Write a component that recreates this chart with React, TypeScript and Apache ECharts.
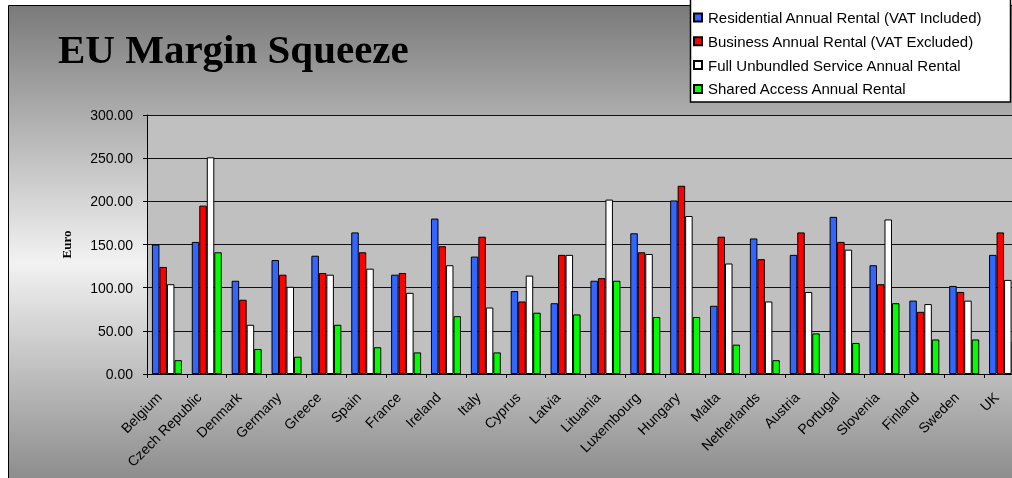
import React, { useEffect, useRef } from "react";
import * as echarts from "echarts";

const categories = [
  "Belgium", "Czech Republic", "Denmark", "Germany", "Greece", "Spain", "France",
  "Ireland", "Italy", "Cyprus", "Latvia", "Lituania", "Luxembourg", "Hungary",
  "Malta", "Netherlands", "Austria", "Portugal", "Slovenia", "Finland", "Sweden", "UK",
];
const residential = [150, 153, 108, 132, 137, 164, 115, 180, 136, 96, 82, 108, 163, 201, 79, 157, 138, 182, 126, 85, 102, 138];
const business = [124, 195, 86, 115, 117, 141, 117, 148, 159, 84, 138, 111, 141, 218, 159, 133, 164, 153, 104, 72, 95, 164];
const fullUnbundled = [104, 251, 57, 101, 115, 122, 94, 126, 77, 114, 138, 202, 139, 183, 128, 84, 95, 144, 179, 81, 85, 109];
const sharedAccess = [16, 141, 29, 20, 57, 31, 25, 67, 25, 71, 69, 108, 66, 66, 34, 16, 47, 36, 82, 40, 40, 38];

const seriesNames = [
  "Residential Annual Rental (VAT Included)",
  "Business Annual Rental (VAT Excluded)",
  "Full Unbundled Service Annual Rental",
  "Shared Access Annual Rental",
];
const seriesColors = ["#3366ff", "#ff0000", "#ffffff", "#00ff00"];
const seriesData = [residential, business, fullUnbundled, sharedAccess];

export default function App() {
  const ref = useRef<HTMLDivElement>(null);
  useEffect(() => {
    if (!ref.current) return;
    const chart = echarts.init(ref.current, undefined, { renderer: "svg" });
    const sans = "Liberation Sans, Arial, sans-serif";
    const serif = "Liberation Serif, Times New Roman, serif";
    chart.setOption({
      animation: false,
      title: {
        text: "EU Margin Squeeze",
        left: 58,
        top: 28,
        padding: 0,
        textStyle: { fontFamily: serif, fontWeight: "bold", fontSize: 41, color: "#000" },
      },
      graphic: [
        {
          type: "rect",
          z: -10,
          shape: { x: 8.5, y: 5.5, width: 1100, height: 514 },
          style: {
            fill: {
              type: "linear", x: 0, y: 0, x2: 0, y2: 1,
              colorStops: [
                { offset: 0, color: "#7a7a7a" },
                { offset: 0.5, color: "#f2f2f2" },
                { offset: 1, color: "#7a7a7a" },
              ],
            },
            stroke: "#000",
            lineWidth: 1,
          },
        },
        {
          type: "rect",
          z: 3,
          shape: { x: 690.5, y: -1, width: 320, height: 103 },
          style: { fill: "#fff", stroke: "#000", lineWidth: 1.5 },
        },
      ],
      legend: {
        orient: "vertical",
        left: 690,
        top: 0,
        padding: [10, 0, 0, 3],
        itemWidth: 8,
        itemHeight: 8,
        itemGap: 8.8,
        icon: "rect",
        textStyle: { fontFamily: sans, fontSize: 15, color: "#000", lineHeight: 15, padding: [0, 0, 0, 1] },
        data: seriesNames,
      },
      grid: {
        left: 147,
        top: 115,
        bottom: 104,
        right: 0,
        show: true,
        backgroundColor: "#c0c0c0",
        borderWidth: 0,
      },
      xAxis: {
        type: "category",
        data: categories,
        axisLine: { lineStyle: { color: "#000", width: 1 } },
        axisTick: { show: true, length: 4, lineStyle: { color: "#000" } },
        axisLabel: {
          interval: 0,
          rotate: 45,
          fontFamily: sans,
          fontSize: 14,
          color: "#000",
          margin: 13,
          padding: [0, 11, 0, 0],
        },
      },
      yAxis: {
        type: "value",
        min: 0,
        max: 300,
        interval: 50,
        name: "Euro",
        nameLocation: "middle",
        nameGap: 74,
        nameTextStyle: { fontFamily: serif, fontWeight: "bold", fontSize: 13, color: "#000" },
        axisLine: { show: true, lineStyle: { color: "#000", width: 1 } },
        axisTick: { show: true, length: 4, lineStyle: { color: "#000" } },
        axisLabel: {
          fontFamily: sans,
          fontSize: 14,
          color: "#000",
          margin: 14,
          formatter: (v: number) => v.toFixed(2),
        },
        splitLine: { show: true, lineStyle: { color: "#111", width: 1 } },
      },
      series: seriesNames.map((name, i) => ({
        name,
        type: "bar",
        data: seriesData[i],
        barWidth: 7.5,
        barGap: "0%",
        itemStyle: { color: seriesColors[i], borderColor: "#000", borderWidth: 1 },
      })),
    });
    return () => chart.dispose();
  }, []);
  return (
    <div
      ref={ref}
      style={{ position: "fixed", left: 0, top: 0, width: 1024, height: 478 }}
    />
  );
}
